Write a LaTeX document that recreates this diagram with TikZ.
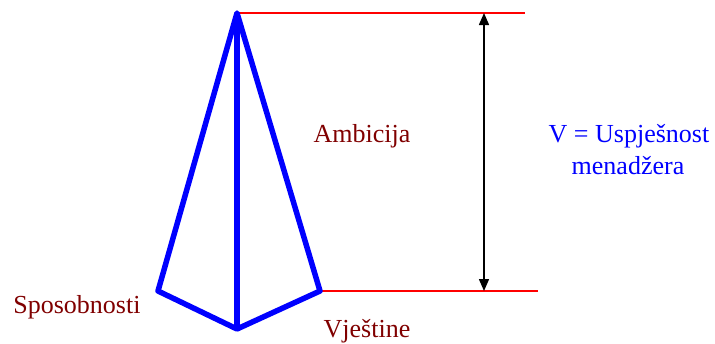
\documentclass[tikz,border=0pt]{standalone}
\usepackage{fontspec}
\setmainfont{Liberation Serif}
\usetikzlibrary{arrows.meta}
\definecolor{darkred}{RGB}{128,0,0}
\definecolor{pureblue}{RGB}{0,0,255}
\begin{document}
\begin{tikzpicture}[x=1pt,y=-1pt,
  kite/.style={draw=pureblue,line width=5.5pt,line join=round},
  guide/.style={draw=red,line width=1.5pt},
  measure/.style={draw=black,line width=1.5pt,{Triangle[length=12pt,width=10pt]}-{Triangle[length=12pt,width=10pt]}},
  lbl/.style={font=\fontsize{26}{32}\selectfont,anchor=base,inner sep=0pt},
  redlbl/.style={lbl,text=darkred},
  bluelbl/.style={lbl,text=pureblue}]
\useasboundingbox (0,0) rectangle (715,343);
\coordinate (top) at (237,13);
\coordinate (L) at (158,291);
\coordinate (R) at (320,291);
\coordinate (B) at (237,329);
\coordinate (topend) at (525,13);
\coordinate (botend) at (538,291);
\coordinate (a1) at (484,13);
\coordinate (a2) at (484,291);
\draw[guide] (top) -- (topend);
\draw[guide] (R) -- (botend);
\draw[measure] (a1) -- (a2);
\draw[kite] (top) -- (L) -- (B) -- (R) -- cycle;
\draw[kite] (top) -- (B);
\node[redlbl] (amb) at (362,142) {Ambicija};
\node[redlbl] (spo) at (77,313) {Sposobnosti};
\node[redlbl] (vje) at (367,337) {Vještine};
\node[bluelbl] (v1) at (629,142) {V = Uspješnost};
\node[bluelbl] (v2) at (628,174) {menadžera};
\end{tikzpicture}
\end{document}
